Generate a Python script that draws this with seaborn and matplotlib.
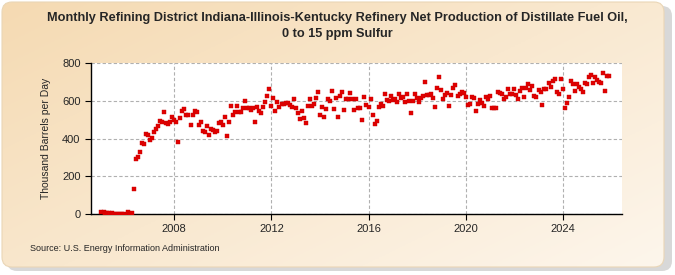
import numpy as np
import pandas as pd
import matplotlib
matplotlib.use("Agg")
import matplotlib.pyplot as plt
import matplotlib.dates as mdates
from matplotlib.patches import FancyBboxPatch
import seaborn as sns

# monthly values, thousand barrels per day
y2005 = [10, 8, 5, 4, 3, 3, 2, 2, 1, 2, 0, 1]
y2006 = [-4, 8, 2, 3, 132, 291, 302, 329, 376, 371, 424, 419]
y2007 = [392, 403, 435, 450, 466, 493, 488, 541, 482, 477, 488, 514]
y2008 = [498, 489, 383, 511, 546, 555, 525, 525, 472, 525, 548, 542]
y2009 = [472, 489, 442, 436, 466, 419, 450, 445, 436, 442, 484, 489]
y2010 = [472, 516, 415, 489, 572, 525, 542, 572, 542, 542, 563, 599]
y2011 = [563, 563, 551, 560, 486, 569, 548, 537, 565, 592, 627, 662]
y2012 = [574, 613, 548, 595, 565, 581, 581, 590, 587, 578, 565, 608]
y2013 = [563, 537, 503, 548, 507, 484, 574, 610, 574, 583, 613, 645]
y2014 = [525, 569, 516, 557, 608, 599, 654, 557, 617, 516, 625, 648]
y2015 = [551, 608, 608, 643, 608, 551, 610, 563, 563, 498, 618, 578]
y2016 = [565, 610, 525, 475, 493, 569, 581, 574, 636, 604, 601, 625]
y2017 = [604, 608, 592, 636, 617, 622, 592, 636, 601, 537, 601, 636]
y2018 = [613, 595, 613, 625, 701, 631, 631, 634, 617, 569, 669, 726]
y2019 = [657, 610, 631, 643, 574, 631, 666, 684, 627, 634, 648, 643]
y2020 = [618, 578, 581, 618, 613, 548, 583, 604, 587, 574, 618, 608]
y2021 = [627, 560, 560, 560, 648, 640, 636, 608, 618, 662, 634, 634]
y2022 = [662, 631, 608, 654, 669, 618, 666, 689, 657, 680, 627, 622]
y2023 = [657, 648, 578, 662, 661, 696, 671, 707, 716, 648, 634, 716]
y2024 = [661, 564, 587, 622, 707, 689, 654, 689, 671, 661, 648, 696]
y2025 = [689, 724, 737, 696, 724, 710, 701, 696, 746, 654, 733, 733]

values = (y2005 + y2006 + y2007 + y2008 + y2009 + y2010 + y2011 + y2012 + y2013 + y2014 + y2015
          + y2016 + y2017 + y2018 + y2019 + y2020 + y2021 + y2022 + y2023 + y2024 + y2025)
dates = pd.date_range("2005-01-01", periods=len(values), freq="MS")
df = pd.DataFrame({"date": dates, "value": values})

title = ("Monthly Refining District Indiana-Illinois-Kentucky Refinery Net Production of Distillate Fuel Oil,\n"
         "0 to 15 ppm Sulfur")
ylabel = "Thousand Barrels per Day"
source = "Source: U.S. Energy Information Administration"
year_ticks = [2008, 2012, 2016, 2020, 2024]

sns.set_style("white")
plt.rcParams["font.family"] = ["Liberation Sans", "DejaVu Sans"]

fig = plt.figure(figsize=(6.75, 2.75), dpi=100)
fig.patch.set_facecolor("white")

# beige rounded background panel with a soft grey shadow on the right
bg = fig.add_axes([0, 0, 1, 1])
bg.set_xlim(0, 675)
bg.set_ylim(275, 0)
bg.axis("off")
shadow = FancyBboxPatch((7, 6), 665, 265, boxstyle="round,pad=0,rounding_size=10",
                        facecolor="#c8c8c8", edgecolor="none", alpha=0.7, zorder=0)
bg.add_patch(shadow)
panel = FancyBboxPatch((2, 2), 662, 265, boxstyle="round,pad=0,rounding_size=10",
                       facecolor="none", edgecolor="#ead6b6", linewidth=0.8, zorder=2)
bg.add_patch(panel)
gx, gy = np.meshgrid(np.linspace(0, 1, 200), np.linspace(0, 1, 100))
t = np.clip(0.55 * gx + 0.45 * gy, 0, 1)
c0 = np.array([245, 218, 178]) / 255
c1 = np.array([253, 246, 236]) / 255
img = c0 + (c1 - c0) * t[..., None]
im = bg.imshow(img, extent=[2, 664, 267, 2], aspect="auto", zorder=1)
im.set_clip_path(panel)

ax = fig.add_axes([0.1348, 0.2218, 0.7867, 0.5491])
ax.set_facecolor("white")
sns.scatterplot(data=df, x="date", y="value", ax=ax, marker="s", s=10,
                color="#e00000", edgecolor="#c80000", linewidth=0.3, zorder=3)

ax.set_ylim(0, 800)
ax.set_yticks([0, 200, 400, 600, 800])
ax.set_xlim(pd.Timestamp("2004-07-27"), pd.Timestamp("2026-06-10"))
ax.set_xticks([pd.Timestamp(f"{y}-01-01") for y in year_ticks])
ax.xaxis.set_major_formatter(mdates.DateFormatter("%Y"))
ax.grid(True, linestyle=(0, (3, 2)), color="#b0b0b0", linewidth=0.8)
ax.set_axisbelow(True)

for side in ["top", "right"]:
    ax.spines[side].set_visible(False)
for side in ["left", "bottom"]:
    ax.spines[side].set_color("black")
    ax.spines[side].set_linewidth(1.0)
ax.tick_params(axis="both", labelsize=8, length=4, color="black", left=True, bottom=True)
ax.set_xlabel("")
ax.set_ylabel(ylabel, fontsize=7.5, labelpad=8)

fig.text(0.5, 0.905, title, ha="center", va="center", fontsize=9.2, fontweight="bold",
         linespacing=1.45)
fig.text(0.044, 0.098, source, ha="left", va="center", fontsize=6.5)

fig.savefig("out.png", dpi=100)
